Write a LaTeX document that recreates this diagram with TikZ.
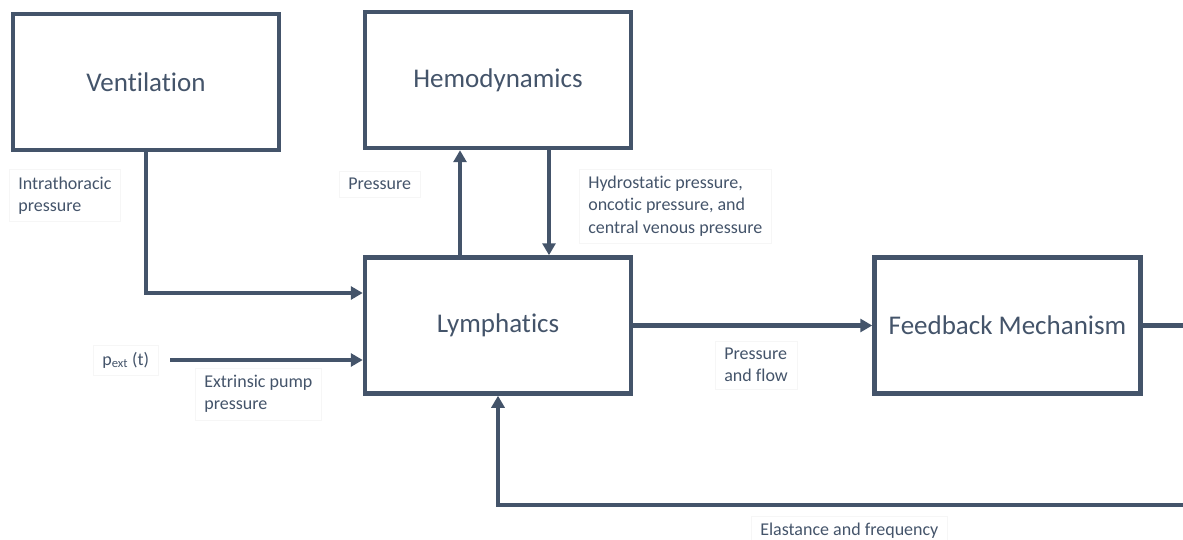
\documentclass[tikz,border=0pt]{standalone}
\usepackage{fontspec}
\setmainfont{Carlito}[Ligatures=NoCommon]
\usetikzlibrary{arrows.meta,positioning,calc}
\definecolor{slate}{HTML}{44546A}
\definecolor{lblframe}{HTML}{F6F6F6}
\tikzset{
  block/.style={draw=slate,fill=white,line width=4.5pt,
                minimum width=266pt,minimum height=136pt,
                inner sep=0pt,text=slate,font=\fontsize{27}{32}\selectfont},
  siglabel/.style={draw=lblframe,line width=0.6pt,anchor=west,align=left,
                   inner xsep=9pt,inner ysep=7pt,text=slate,
                   font=\fontsize{18}{22.5}\selectfont},
  flowarr/.style={-{Triangle[length=12pt,width=13pt]},draw=slate,line width=4.5pt}
}

\begin{document}
\begin{tikzpicture}[x=1pt,y=-1pt]
  \useasboundingbox (0,0) rectangle (1183,540);
  % blocks
  \node[block] (vent) at (146,82) {Ventilation};
  \node[block] (hemo) at (498,80) {Hemodynamics};
  \node[block] (lymph) at (498,325.5) {Lymphatics};
  \node[block] (feed) at (1007.5,325.5) {Feedback Mechanism};
  % signal labels
  \node[siglabel] (lIntra) at (9,195.5) {Intrathoracic\\pressure};
  \node[siglabel] (lPress) at (339,184) {Pressure};
  \node[siglabel] (lHydro) at (579,206) {Hydrostatic pressure,\\oncotic pressure, and\\central venous pressure};
  \node[siglabel] (pext) at (93,360) {p\textsubscript{ext} (t)};
  \node[siglabel] (lPump) at (195,394) {Extrinsic pump\\pressure};
  \node[siglabel] (lFlow) at (715,365) {Pressure\\and flow};
  \node[siglabel] (lElast) at (751,531) {Elastance and frequency};
  % connectors
  \coordinate (pextOut) at (170,360);
  \coordinate (loopR) at (1196,505);
  \draw[flowarr] (vent.south) |- (lymph.west |- 0,293);
  \draw[flowarr] (pextOut) -- (lymph.west |- pextOut);
  \draw[flowarr] ([xshift=-38pt]lymph.north) -- ([xshift=-38pt]hemo.south);
  \draw[flowarr] ([xshift=51pt]hemo.south) -- ([xshift=51pt]lymph.north);
  \draw[flowarr] (lymph) -- (feed);
  \draw[flowarr] (feed.east) -| (loopR) -| (lymph.south);
\end{tikzpicture}
\end{document}
